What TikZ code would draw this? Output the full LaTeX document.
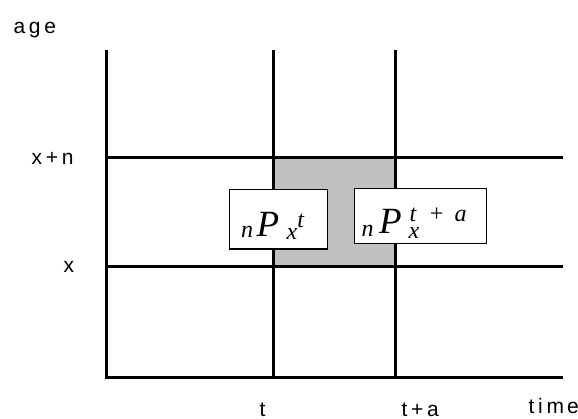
\documentclass[tikz,border=0pt]{standalone}
\usepackage{fontspec}
\setmainfont{Liberation Serif}
\newfontfamily\axisfont[LetterSpace=18]{Liberation Sans}
\usetikzlibrary{positioning,calc}
\definecolor{cellgray}{RGB}{192,192,192}
\tikzset{
  lexis/.style={x=1pt,y=-1pt,line width=3pt,
    every node/.style={inner sep=0pt}},
}
\newcommand{\pbig}{\fontsize{37}{37}\selectfont\itshape}
\newcommand{\psmall}{\fontsize{24}{24}\selectfont\itshape}

\begin{document}
\begin{tikzpicture}[lexis,
   lbl/.style={font=\axisfont\fontsize{21}{21}\selectfont,anchor=base west},
   pbox/.style={draw,fill=white,line width=1.1pt,anchor=north west}]
\useasboundingbox (0,0) rectangle (578,419);
% axes and grid lines
\coordinate (top) at (106,50);
\coordinate (o) at (106,377);
\coordinate (end) at (563,377);
\coordinate (t1) at (273,50);   \coordinate (t0) at (273,377);
\coordinate (a1) at (395,50);   \coordinate (a0) at (395,377);
\coordinate (xn0) at (106,158); \coordinate (xn1) at (563,158);
\coordinate (x0) at (106,267);  \coordinate (x1) at (563,267);
\fill[cellgray] (t1 |- xn0) rectangle (a0 |- x0);
\draw (top) -- (o) -- (end);
\draw (t1) -- (t0);
\draw (a1) -- (a0);
\draw (xn0) -- (xn1);
\draw (x0) -- (x1);
% the two populations
\node[pbox] (pt) at (229,189) {\makebox[98pt][l]{\rule[-13pt]{0pt}{59.5pt}\hspace{11.5pt}%
  \raisebox{-1pt}{\psmall n}\kern3.5pt{\pbig P}\kern7.5pt\raisebox{-3pt}{\psmall x}\raisebox{9pt}{\psmall t}}};
\node[pbox] (pta) at (354,188) {\makebox[132pt][l]{\rule[-10pt]{0pt}{55pt}\hspace{7pt}%
  \raisebox{-3pt}{\psmall n}\kern5.5pt{\pbig P}\kern7pt\rlap{\raisebox{-5pt}{\psmall x}}\kern1pt%
  \raisebox{12pt}{\psmall t\kern12pt+\kern10pt a}}};
% labels
\node[lbl] (age) at (12,33.3) {age};
\node[lbl] (lxn) at (30,165) {x+n};
\node[lbl] (lx) at (62,273) {x};
\node[lbl] (lt) at (258,416.5) {t};
\node[lbl] (lta) at (400,416.5) {t+a};
\node[lbl] (time) at (527,413) {tim\kern3pt e};
\end{tikzpicture}
\end{document}
